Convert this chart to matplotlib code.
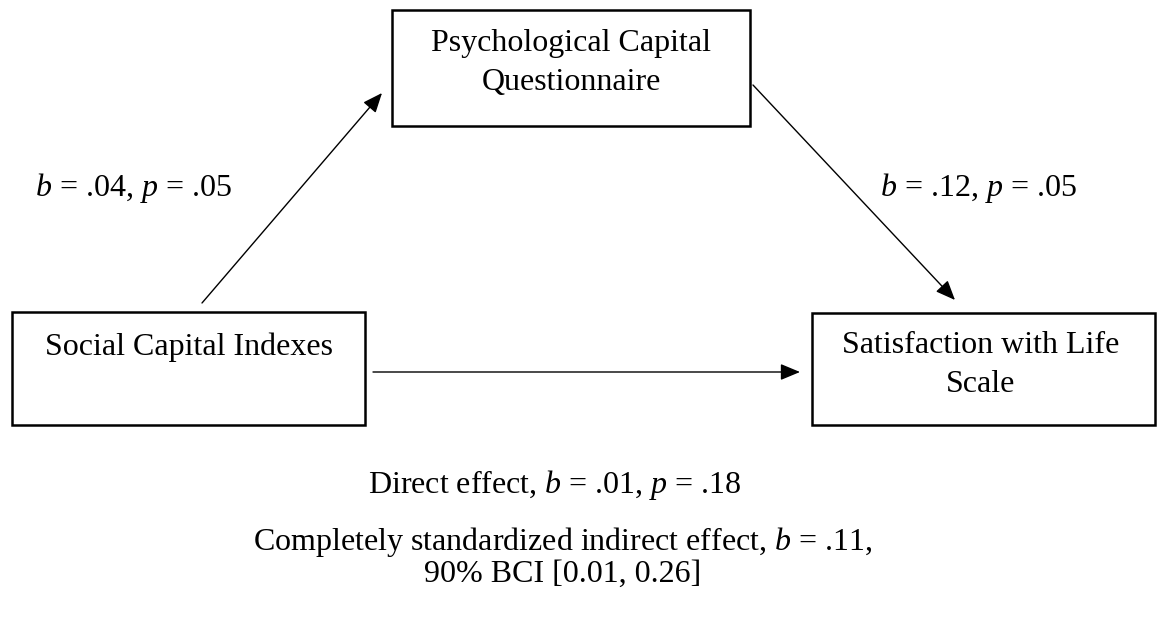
import matplotlib
matplotlib.use("Agg")
import matplotlib.pyplot as plt
from matplotlib.patches import Rectangle, FancyArrowPatch

plt.rcParams["mathtext.fontset"] = "custom"
plt.rcParams["mathtext.rm"] = "Liberation Serif"
plt.rcParams["mathtext.it"] = "Liberation Serif:italic"
plt.rcParams["mathtext.bf"] = "Liberation Serif:bold"

# Data
node_labels = ["Social Capital Indexes",
               "Psychological Capital\nQuestionnaire",
               "Satisfaction with Life\nScale"]
path_a = {"b": ".04", "p": ".05"}
path_b = {"b": ".12", "p": ".05"}
direct = {"b": ".01", "p": ".18"}
indirect_b = ".11"
ci_level = "90%"
ci_bounds = ["0.01", "0.26"]

W, H = 1158, 626
fig = plt.figure(figsize=(W / 100, H / 100), dpi=100)
ax = fig.add_axes([0, 0, 1, 1])
ax.set_xlim(0, W)
ax.set_ylim(H, 0)
ax.axis("off")

FONT = "Liberation Serif"
FS = 23

# boxes: (x0, y0, x1, y1) in pixel coords
boxes = [(12, 312, 365, 425), (392, 10, 750, 126), (812, 313, 1155, 425)]
for (x0, y0, x1, y1), lab in zip(boxes, node_labels):
    ax.add_patch(Rectangle((x0, y0), x1 - x0, y1 - y0, fill=False,
                           edgecolor="black", lw=1.8))

ax.text(189, 347, node_labels[0], ha="center", va="center", fontsize=FS, family=FONT)
ax.text(571, 63, node_labels[1], ha="center", va="center", fontsize=FS, family=FONT,
        linespacing=1.45)
ax.text(981, 365, node_labels[2], ha="center", va="center", fontsize=FS, family=FONT,
        linespacing=1.45)

# arrows
arrows = [((202, 303), (382, 93)), ((753, 85), (955, 300)), ((373, 372), (800, 372))]
for s, e in arrows:
    ax.add_patch(FancyArrowPatch(s, e, arrowstyle="-|>,head_length=12,head_width=5",
                                 mutation_scale=1, color="black", lw=1.0,
                                 shrinkA=0, shrinkB=0))

def stat(b, p):
    return rf"$b$ = {b}, $p$ = {p}"

ax.text(35, 188, stat(path_a['b'], path_a['p']),
        ha="left", va="center", fontsize=FS, family=FONT)
ax.text(880, 188, stat(path_b['b'], path_b['p']),
        ha="left", va="center", fontsize=FS, family=FONT)
ax.text(555, 485, "Direct effect, " + stat(direct['b'], direct['p']),
        ha="center", va="center", fontsize=FS, family=FONT)
ax.text(563, 542, rf"Completely standardized indirect effect, $b$ = {indirect_b},",
        ha="center", va="center", fontsize=FS, family=FONT)
ax.text(563, 574, f"{ci_level} BCI [{ci_bounds[0]}, {ci_bounds[1]}]",
        ha="center", va="center", fontsize=FS, family=FONT)

fig.savefig("out.png", dpi=100)
